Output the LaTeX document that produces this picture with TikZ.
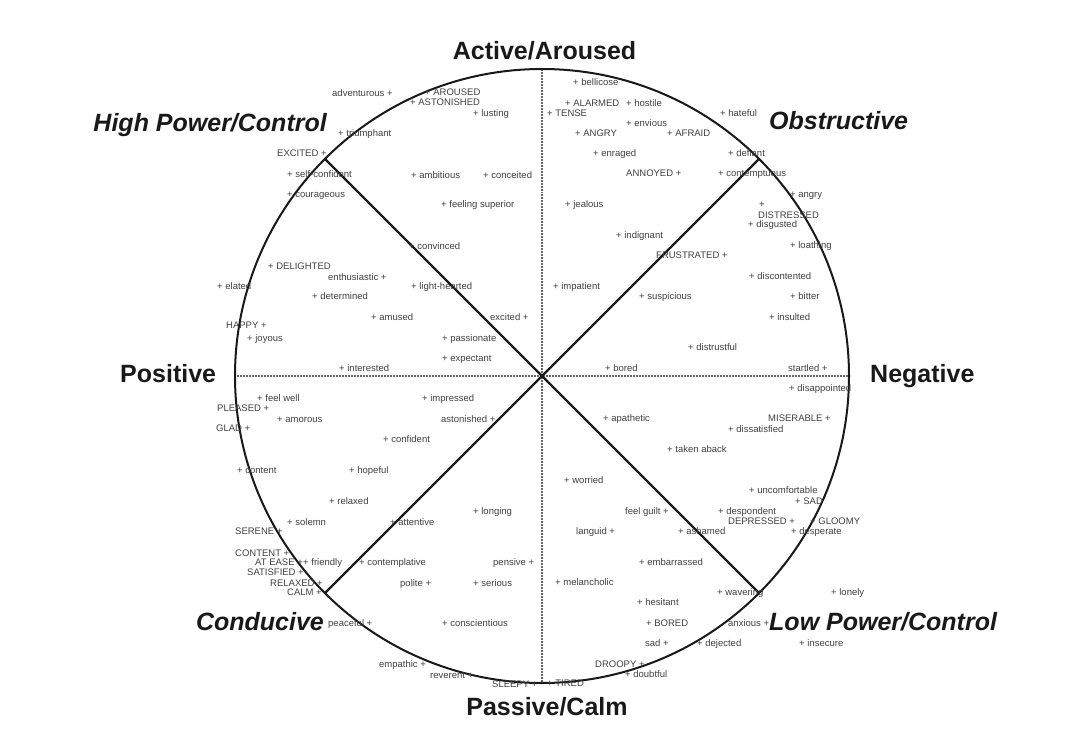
\documentclass[tikz,border=0pt]{standalone}
\usepackage{fontspec}
\setmainfont{Liberation Sans}
\tikzset{
  wl/.style={font=\fontsize{9.5}{10}\selectfont, text=black!75, inner sep=0pt, anchor=base west},
  head/.style={font=\fontsize{25}{28}\selectfont\bfseries, text=black!90, inner sep=0pt},
  headi/.style={font=\fontsize{25}{28}\selectfont\bfseries\itshape, text=black!90, inner sep=0pt},
  rim/.style={line width=2pt, black!90},
  spoke/.style={line width=2.4pt, black!90},
  axis/.style={line width=1.6pt, black!60, dash pattern=on 1pt off 0.5pt}
}
\newcommand\wl[4]{\node[wl] (#1) at (#2,#3+3.5) {#4};}
\begin{document}
\begin{tikzpicture}[x=1pt,y=-1pt]
\useasboundingbox (0,0) rectangle (1080,741);
\coordinate (C) at (542,376);
% axes
\coordinate (T) at (542,69);
\coordinate (B) at (542,683);
\coordinate (L) at (235,376);
\coordinate (R) at (849,376);
\draw[axis] (T) -- (B);
\draw[axis] (L) -- (R);
% rim and spokes
\draw[rim] (C) circle[radius=307];
\coordinate (UL) at (325,159);
\coordinate (UR) at (759,159);
\coordinate (LL) at (325,593);
\coordinate (LR) at (759,593);
\draw[spoke] (UL) -- (LR);
\draw[spoke] (UR) -- (LL);
% headings
\node[head, anchor=base] (act) at (544.5,60) {Active/Aroused};
\node[head, anchor=base] (pas) at (547,715) {Passive/Calm};
\node[head, anchor=base west] (pos) at (120,382) {Positive};
\node[head, anchor=base west] (neg) at (870,382) {Negative};
\node[headi, anchor=base east] (hpc) at (327,132) {High Power/Control};
\node[headi, anchor=base west] (obs) at (769,130) {Obstructive};
\node[headi, anchor=base east] (con) at (324,630) {Conducive};
\node[headi, anchor=base west] (lpc) at (769,630) {Low Power/Control};
% top-left
\wl{w1}{332}{93}{adventurous +}
\wl{w2}{425}{92}{+ AROUSED}
\wl{w3}{410}{102}{+ ASTONISHED}
\wl{w4}{473}{113}{+ lusting}
\wl{w5}{338}{133}{+ triumphant}
\wl{w6}{277}{153}{EXCITED +}
\wl{w7}{287}{174}{+ self-confident}
\wl{w8}{411}{175}{+ ambitious}
\wl{w9}{483}{175}{+ conceited}
\wl{w10}{287}{194}{+ courageous}
\wl{w11}{441}{204}{+ feeling superior}
\wl{w12}{409}{246}{+ convinced}
\wl{w13}{268}{266}{+ DELIGHTED}
\wl{w14}{328}{277}{enthusiastic +}
\wl{w15}{217}{286}{+ elated}
\wl{w16}{411}{286}{+ light-hearted}
\wl{w17}{312}{296}{+ determined}
\wl{w18}{371}{317}{+ amused}
\wl{w19}{490}{317}{excited +}
\wl{w20}{226}{325}{HAPPY +}
\wl{w21}{247}{338}{+ joyous}
\wl{w22}{442}{338}{+ passionate}
\wl{w23}{442}{358}{+ expectant}
\wl{w24}{339}{368}{+ interested}
% top-right
\wl{w25}{573}{82}{+ bellicose}
\wl{w26}{565}{103}{+ ALARMED}
\wl{w27}{626}{103}{+ hostile}
\wl{w28}{547}{113}{+ TENSE}
\wl{w29}{720}{113}{+ hateful}
\wl{w30}{626}{123}{+ envious}
\wl{w31}{575}{133}{+ ANGRY}
\wl{w32}{667}{133}{+ AFRAID}
\wl{w33}{593}{153}{+ enraged}
\wl{w34}{728}{153}{+ defiant}
\wl{w35}{626}{173}{ANNOYED +}
\wl{w36}{718}{173}{+ contemptuous}
\wl{w37}{790}{194}{+ angry}
\wl{w38}{565}{204}{+ jealous}
\wl{w39}{759}{204}{+}
\wl{w40}{758}{215}{DISTRESSED}
\wl{w41}{748}{224}{+ disgusted}
\wl{w42}{616}{235}{+ indignant}
\wl{w43}{790}{245}{+ loathing}
\wl{w44}{656}{255}{FRUSTRATED +}
\wl{w45}{749}{276}{+ discontented}
\wl{w46}{553}{286}{+ impatient}
\wl{w47}{639}{296}{+ suspicious}
\wl{w48}{790}{296}{+ bitter}
\wl{w49}{769}{317}{+ insulted}
\wl{w50}{688}{347}{+ distrustful}
\wl{w51}{605}{368}{+ bored}
\wl{w52}{788}{368}{startled +}
% bottom-left
\wl{w53}{257}{398}{+ feel well}
\wl{w54}{422}{398}{+ impressed}
\wl{w55}{217}{408}{PLEASED +}
\wl{w56}{277}{419}{+ amorous}
\wl{w57}{441}{419}{astonished +}
\wl{w58}{216}{428}{GLAD +}
\wl{w59}{383}{439}{+ confident}
\wl{w60}{237}{470}{+ content}
\wl{w61}{349}{470}{+ hopeful}
\wl{w62}{329}{501}{+ relaxed}
\wl{w63}{473}{511}{+ longing}
\wl{w64}{287}{522}{+ solemn}
\wl{w65}{390}{522}{+ attentive}
\wl{w66}{235}{531}{SERENE +}
\wl{w67}{235}{553}{CONTENT +}
\wl{w68}{255}{562}{AT EASE +}
\wl{w69}{303}{562}{+ friendly}
\wl{w70}{359}{562}{+ contemplative}
\wl{w71}{493}{562}{pensive +}
\wl{w72}{247}{572}{SATISFIED +}
\wl{w73}{270}{583}{RELAXED +}
\wl{w74}{400}{583}{polite +}
\wl{w75}{473}{583}{+ serious}
\wl{w76}{287}{592}{CALM +}
\wl{w77}{328}{623}{peaceful +}
\wl{w78}{442}{623}{+ conscientious}
\wl{w79}{379}{664}{empathic +}
\wl{w80}{430}{675}{reverent +}
\wl{w81}{492}{684}{SLEEPY +}
% bottom-right
\wl{w82}{547}{683}{+ TIRED}
\wl{w83}{789}{388}{+ disappointed}
\wl{w84}{603}{418}{+ apathetic}
\wl{w85}{768}{418}{MISERABLE +}
\wl{w86}{728}{429}{+ dissatisfied}
\wl{w87}{667}{449}{+ taken aback}
\wl{w88}{564}{480}{+ worried}
\wl{w89}{749}{490}{+ uncomfortable}
\wl{w90}{795}{501}{+ SAD}
\wl{w91}{625}{511}{feel guilt +}
\wl{w92}{718}{511}{+ despondent}
\wl{w93}{728}{521}{DEPRESSED +}
\wl{w94}{810}{521}{+ GLOOMY}
\wl{w95}{576}{531}{languid +}
\wl{w96}{678}{531}{+ ashamed}
\wl{w97}{791}{531}{+ desperate}
\wl{w98}{639}{562}{+ embarrassed}
\wl{w99}{555}{582}{+ melancholic}
\wl{w100}{717}{592}{+ wavering}
\wl{w101}{831}{592}{+ lonely}
\wl{w102}{637}{602}{+ hesitant}
\wl{w103}{646}{623}{+ BORED}
\wl{w104}{728}{623}{anxious +}
\wl{w105}{645}{643}{sad +}
\wl{w106}{697}{643}{+ dejected}
\wl{w107}{799}{643}{+ insecure}
\wl{w108}{595}{664}{DROOPY +}
\wl{w109}{625}{674}{+ doubtful}
\end{tikzpicture}
\end{document}
